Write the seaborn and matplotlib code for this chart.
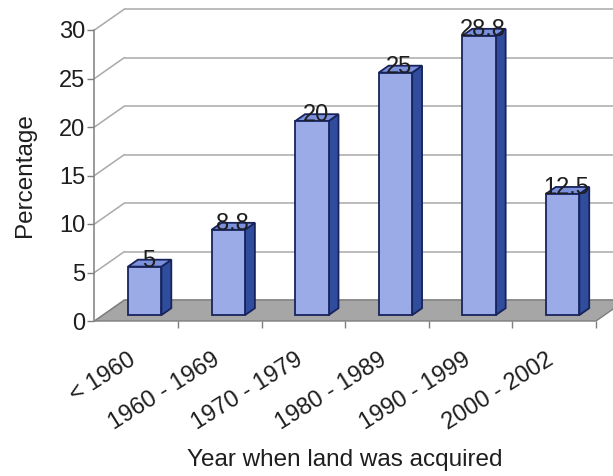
import numpy as np
import matplotlib
matplotlib.use("Agg")
import matplotlib.pyplot as plt
from matplotlib.patches import Polygon
from matplotlib.transforms import ScaledTranslation, IdentityTransform
import seaborn as sns

# Share of holdings by period in which the land was acquired
categories = ["< 1960", "1960 - 1969", "1970 - 1979", "1980 - 1989", "1990 - 1999", "2000 - 2002"]
percentages = [5, 8.8, 20, 25, 28.8, 12.5]
value_labels = ["5", "8.8", "20", "25", "28.8", "12.5"]
y_ticks = [0, 5, 10, 15, 20, 25, 30]

sns.set_theme(style="white")
plt.rcParams["font.family"] = ["Liberation Sans", "DejaVu Sans"]

DPI = 100
W, H = 613, 476
fig = plt.figure(figsize=(W / DPI, H / DPI), dpi=DPI)
fig.patch.set_facecolor("white")

# plot frame (pixel positions measured from top-left of the canvas)
left, right, base, top = 94.5, 596, 321, 30
ax = fig.add_axes([left / W, (H - base) / H, (right - left) / W, (base - top) / H])

DEPTH = np.array([30.0, 21.0])     # pseudo-3D depth of the floor, in pixels
BAR_FRONT, BAR_BACK = 0.28, 0.61   # bar placement inside that depth

FRONT = "#9aabe8"
SIDE = "#2f4d9c"
TOPC = "#7b91dc"
EDGE = "#18235c"
FLOOR = "#a6a6a6"
GRID = "#a9a9a9"
TEXT = "#1e1e1e"


def shifted(dx, dy):
    return ax.transData + ScaledTranslation(dx / DPI, dy / DPI, fig.dpi_scale_trans)


sns.barplot(x=categories, y=percentages, order=categories, width=0.4,
            color=FRONT, saturation=1, edgecolor=EDGE, linewidth=1.3,
            ax=ax, zorder=4)

n = len(categories)
ax.set_xlim(-0.5, n - 0.5)
ax.set_ylim(y_ticks[0], y_ticks[-1])
ax.set_facecolor("none")

back = shifted(*DEPTH)
xl, xr = ax.get_xlim()

# back-wall gridlines and the diagonal lines of the side wall
for v in y_ticks:
    ax.plot([xl, xr + 1], [v, v], color=GRID, lw=1.1, transform=back,
            clip_on=False, zorder=0.5)
    p0 = ax.transData.transform((xl, v))
    seg = np.array([p0, p0 + DEPTH])
    ax.plot(seg[:, 0], seg[:, 1], color=GRID, lw=1.1,
            transform=IdentityTransform(), clip_on=False, zorder=0.6)

# floor
f0 = ax.transData.transform((xl, 0))
f1 = ax.transData.transform((xr, 0))
floor = np.array([f0, f1, f1 + DEPTH, f0 + DEPTH])
ax.add_patch(Polygon(floor, closed=True, facecolor=FLOOR, edgecolor="#7d7d7d",
                     lw=1.0, transform=IdentityTransform(), clip_on=False, zorder=1))

# bars: front faces from seaborn, then side and top faces
front_off = DEPTH * BAR_FRONT
back_off = DEPTH * BAR_BACK
for patch, label in zip(ax.patches[:n], value_labels):
    patch.set_transform(shifted(*front_off))
    patch.set_clip_on(False)
    x0, w, h = patch.get_x(), patch.get_width(), patch.get_height()
    c = ax.transData.transform([[x0, 0], [x0 + w, 0], [x0 + w, h], [x0, h]])
    fr = c + front_off
    bk = c + back_off
    side = np.array([fr[1], bk[1], bk[2], fr[2]])
    topf = np.array([fr[3], fr[2], bk[2], bk[3]])
    ax.add_patch(Polygon(side, closed=True, facecolor=SIDE, edgecolor=EDGE, lw=1.3,
                         transform=IdentityTransform(), clip_on=False, zorder=3))
    ax.add_patch(Polygon(topf, closed=True, facecolor=TOPC, edgecolor=EDGE, lw=1.3,
                         transform=IdentityTransform(), clip_on=False, zorder=3))
    ax.text(x0 + w / 2, h, label, ha="center", va="center", fontsize=17,
            color=TEXT, transform=shifted(front_off[0] + 4, front_off[1] + 6),
            zorder=6, clip_on=False)

# axes styling
for s in ["top", "right", "bottom"]:
    ax.spines[s].set_visible(False)
ax.spines["left"].set_color("#7f7f7f")
ax.spines["left"].set_linewidth(1.1)

ax.set_yticks(y_ticks)
ax.tick_params(axis="y", left=True, length=5, width=1.0, color="#7f7f7f",
               direction="out", pad=1.5, labelsize=17, labelcolor=TEXT)

ax.set_xticks(range(n))
ax.set_xticks(np.arange(n) + 0.5, minor=True)
ax.tick_params(axis="x", which="major", bottom=True, length=0, pad=20,
               labelsize=17, labelcolor=TEXT)
ax.tick_params(axis="x", which="minor", bottom=True, length=5, width=1.0,
               color="#7f7f7f", direction="out")
ax.set_xticklabels(categories)
for lab in ax.get_xticklabels():
    lab.set_rotation(32)
    lab.set_ha("right")
    lab.set_va("top")
    lab.set_rotation_mode("anchor")
    lab.set_transform(lab.get_transform() + ScaledTranslation(-8 / DPI, 0, fig.dpi_scale_trans))

ax.set_xlabel("Year when land was acquired", fontsize=17.5, color=TEXT)
ax.xaxis.label.set_va("center")
ax.xaxis.set_label_coords((345 - left) / (right - left), (base - 460) / (base - top))
ax.set_ylabel("Percentage", fontsize=17.5, color=TEXT)
ax.yaxis.label.set_va("center")
ax.yaxis.set_label_coords((25 - left) / (right - left), 0.5)

fig.savefig("out.png", dpi=DPI, facecolor="white")
